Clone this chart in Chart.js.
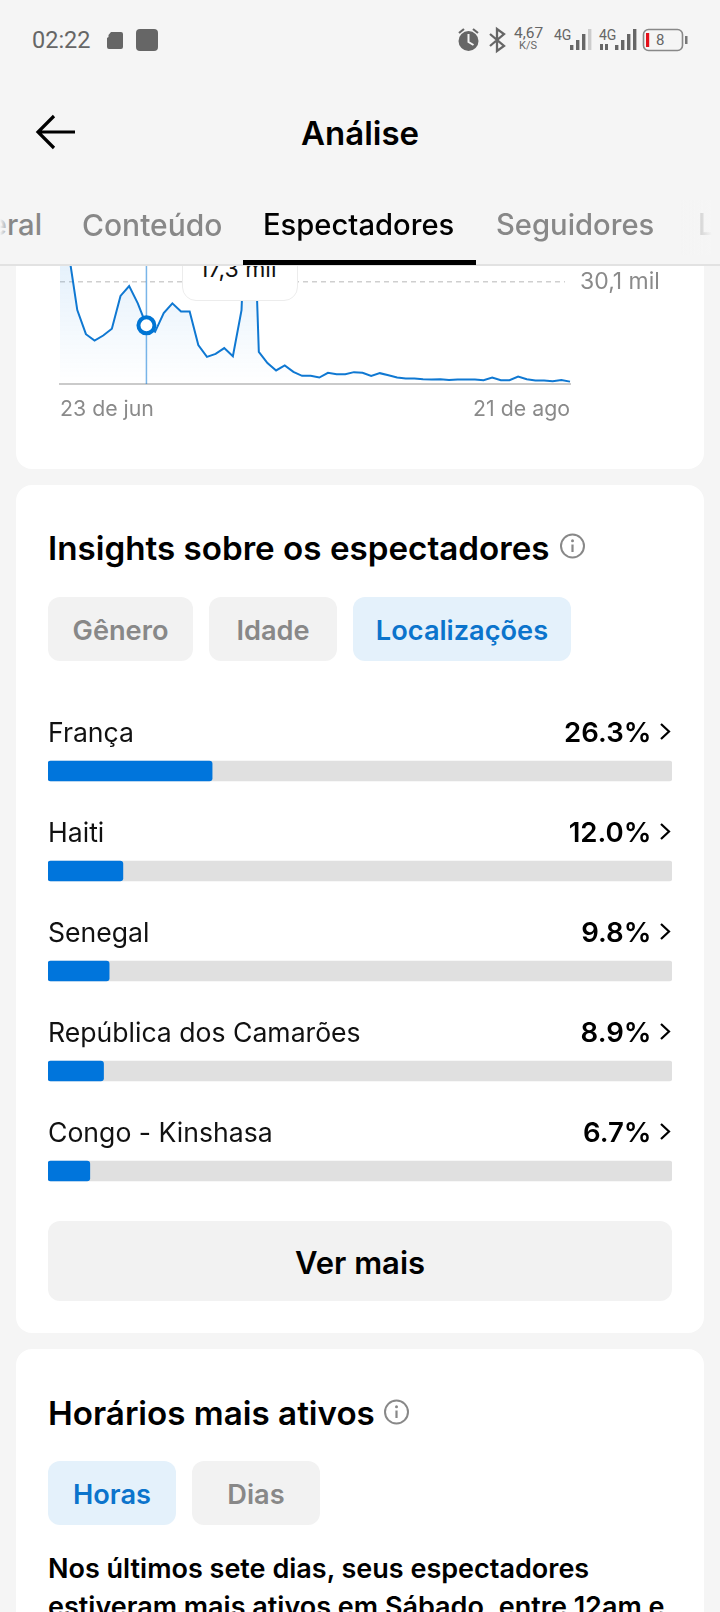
<!DOCTYPE html>
<html lang="pt">
<head>
<meta charset="utf-8">
<title>Análise</title>
<script src="https://cdn.jsdelivr.net/npm/chart.js@4"></script>
<style>
html,body{margin:0;padding:0;width:720px;height:1612px;overflow:hidden;background:#f5f5f5;font-family:Inter,"Noto Sans",sans-serif;}
.a{position:absolute;white-space:nowrap;}
.t{position:absolute;white-space:nowrap;line-height:40px;height:40px;}
.card{position:absolute;left:16px;width:688px;background:#fff;border-radius:16px;}
.pill{position:absolute;height:64px;line-height:67px;text-align:center;border-radius:12px;background:#f2f2f2;color:#888;font-size:27.2px;font-weight:600;}
.pill.on{background:#e4f1fb;color:#0b74cc;}
canvas{position:absolute;}
</style>
</head>
<body>
<div class="card" style="top:200px;height:269px"></div>
<div class="card" style="top:485px;height:848px"></div>
<div class="card" style="top:1349px;height:300px"></div>

<canvas id="lineChart" style="left:0;top:79px;width:720px;height:351px" width="720" height="351"></canvas>
<div class="a" style="left:565px;top:279px;width:8px;height:6px;background:#fff"></div>

<div class="a" style="left:182px;top:200px;width:114px;height:99px;background:#fff;border:1px solid #ececec;border-radius:14px;"></div>
<div class="t" style="left:199px;top:249px;font-size:23px;color:#111">17,3 mil</div>

<div class="a" style="left:0;top:0;width:720px;height:264px;background:#f5f5f5;border-bottom:2px solid #e2e2e2;"></div>

<div class="t" style="left:32px;top:20px;font-family:Roboto;font-size:23.5px;color:#666">02:22</div>
<svg class="a" style="left:0;top:0" width="720" height="70">
  <path d="M111 32h10a2 2 0 0 1 2 2v13a2 2 0 0 1-2 2h-12a2 2 0 0 1-2-2v-9l1.500-1v-2z" fill="#666"/>
  <rect x="136" y="29" width="22" height="22" rx="4" fill="#666"/>
  <circle cx="468.500" cy="41" r="10" fill="#666"/>
  <path d="M468.500 34v8l5 3" stroke="#f5f5f5" stroke-width="2" fill="none"/>
  <path d="M459 33l5-4M478 33l-5-4" stroke="#666" stroke-width="2.200" fill="none"/>
  <path d="M490 34l14 12-7 5V29l7 5-14 12" stroke="#666" stroke-width="2.300" fill="none"/>
  <g fill="#666">
    <rect x="570" y="45" width="3.400" height="5"/><rect x="576" y="40" width="3.400" height="10"/><rect x="582" y="34" width="3.400" height="16"/>
    <rect x="615" y="45" width="3.400" height="5"/><rect x="621" y="40" width="3.400" height="10"/><rect x="627" y="34" width="3.400" height="16"/><rect x="633" y="29" width="3.400" height="21"/>
    <rect x="600" y="44" width="3" height="6"/><rect x="605" y="44" width="3" height="6"/>
  </g>
  <rect x="588" y="29" width="3.400" height="21" fill="#ccc"/>
  <rect x="643.500" y="29.500" width="39" height="21" rx="5" fill="none" stroke="#888" stroke-width="1.600"/>
  <rect x="646" y="33" width="3.200" height="14" fill="#e3101a"/>
  <rect x="685" y="36" width="2.500" height="8" fill="#777"/>
</svg>
<div class="a" style="left:514px;top:24px;font:15.500px/18px Roboto;color:#666">4,67</div>
<div class="a" style="left:519px;top:39px;font:11px/13px Roboto;color:#666">K/S</div>
<div class="a" style="left:554px;top:26px;font:14px/18px Roboto;color:#666">4G</div>
<div class="a" style="left:599px;top:26px;font:14px/18px Roboto;color:#666">4G</div>
<div class="a" style="left:656px;top:30px;font:15px/20px Roboto;color:#666">8</div>

<svg class="a" style="left:34px;top:112px" width="46" height="40">
  <path d="M3 20h38M20 4L4 20l16 16" stroke="#000" stroke-width="3.200" fill="none"/>
</svg>
<div class="t" style="left:301px;top:113px;font-size:33px;font-weight:600;color:#000">Análise</div>

<div class="t" style="right:678px;top:205px;font-size:29.200px;font-weight:500;color:#888">Geral</div>
<div class="t" style="left:82px;top:205px;font-size:30px;font-weight:500;color:#888">Conteúdo</div>
<div class="t" style="left:263px;top:205px;font-size:29.200px;font-weight:500;color:#000">Espectadores</div>
<div class="t" style="left:496px;top:205px;font-size:29.200px;font-weight:500;color:#888">Seguidores</div>
<div class="t" style="left:698px;top:205px;font-size:29.200px;font-weight:500;color:#888">Live</div>
<div class="a" style="left:0;top:200px;width:10px;height:55px;background:linear-gradient(90deg,#f5f5f5,rgba(245,245,245,0))"></div>
<div class="a" style="left:680px;top:200px;width:40px;height:55px;background:linear-gradient(270deg,#f5f5f5 20%,rgba(245,245,245,.2))"></div>
<div class="a" style="left:243px;top:260px;width:233px;height:4.500px;background:#000"></div>

<div class="t" style="left:48px;top:528px;font-size:33.200px;font-weight:600;color:#000">Insights sobre os espectadores</div>
<svg class="a" style="left:559px;top:532px" width="28" height="28"><circle cx="13.500" cy="14" r="11.500" fill="none" stroke="#888" stroke-width="2"/><path d="M13.500 12.500v7.500" stroke="#888" stroke-width="2.200"/><circle cx="13.500" cy="8.800" r="1.500" fill="#888"/></svg>
<div class="pill" style="left:48px;top:597px;width:145px">Gênero</div>
<div class="pill" style="left:209px;top:597px;width:128px">Idade</div>
<div class="pill on" style="left:353px;top:597px;width:218px">Localizações</div>

<canvas id="barChart" style="left:0;top:721px;width:720px;height:500px" width="720" height="500"></canvas>

<div class="a" style="left:48px;top:1221px;width:624px;height:80px;line-height:84px;text-align:center;background:#f2f2f2;border-radius:12px;font-size:31px;font-weight:600;color:#000">Ver mais</div>

<div class="t" style="left:48px;top:1393px;font-size:33.200px;font-weight:600;color:#000">Horários mais ativos</div>
<svg class="a" style="left:383px;top:1398px" width="28" height="28"><circle cx="13.500" cy="14" r="11.500" fill="none" stroke="#888" stroke-width="2"/><path d="M13.500 12.500v7.500" stroke="#888" stroke-width="2.200"/><circle cx="13.500" cy="8.800" r="1.500" fill="#888"/></svg>
<div class="pill on" style="left:48px;top:1461px;width:128px">Horas</div>
<div class="pill" style="left:192px;top:1461px;width:128px">Dias</div>
<div class="t" style="left:48px;top:1549px;font-size:27px;font-weight:600;color:#000">Nos últimos sete dias, seus espectadores</div>
<div class="t" style="left:48px;top:1587px;font-size:27px;font-weight:600;color:#000">estiveram mais ativos em Sábado, entre 12am e</div>

<script>
const dates = [
  "23 de jun","24 de jun","25 de jun","26 de jun","27 de jun","28 de jun","29 de jun","30 de jun",
  "1 de jul","2 de jul","3 de jul","4 de jul","5 de jul","6 de jul","7 de jul","8 de jul","9 de jul","10 de jul",
  "11 de jul","12 de jul","13 de jul","14 de jul","15 de jul","16 de jul","17 de jul","18 de jul","19 de jul","20 de jul",
  "21 de jul","22 de jul","23 de jul","24 de jul","25 de jul","26 de jul","27 de jul","28 de jul","29 de jul","30 de jul","31 de jul",
  "1 de ago","2 de ago","3 de ago","4 de ago","5 de ago","6 de ago","7 de ago","8 de ago","9 de ago","10 de ago",
  "11 de ago","12 de ago","13 de ago","14 de ago","15 de ago","16 de ago","17 de ago","18 de ago","19 de ago","20 de ago","21 de ago"
];
const viewers = [
  50,38.8,21.8,14.7,12.8,14.3,16.3,26.0,28.9,23.8,
  17.3,15.4,20.9,23.8,21.4,21.4,11.5,8.0,8.9,10.6,
  8.2,21.8,86,9.5,6.2,4.0,5.5,3.6,2.4,2.4,
  1.9,3.3,2.9,2.9,3.5,3.3,2.4,3.2,2.6,1.9,
  1.6,1.6,1.4,1.3,1.4,1.2,1.3,1.3,1.3,1.1,
  1.9,1.1,1.1,2.2,1.4,1.0,1.0,0.8,1.2,0.7
];
const selectedIndex = 10;
const referenceTick = 30.1;
const referenceLabel = "30,1 mil";
const countries = ["França","Haiti","Senegal","República dos Camarões","Congo - Kinshasa"];
const shares = [26.3,12.0,9.8,8.9,6.7];
const fullScale = [100,100,100,100,100];

const crosshair = {
  id:'crosshair',
  beforeDatasetsDraw(chart){
    const pt = chart.getDatasetMeta(0).data[selectedIndex];
    const {ctx,chartArea} = chart;
    ctx.save();
    ctx.strokeStyle = 'rgba(11,120,214,.55)';
    ctx.lineWidth = 1.5;
    ctx.beginPath();
    ctx.moveTo(pt.x,chartArea.top);
    ctx.lineTo(pt.x,chartArea.bottom);
    ctx.stroke();
    ctx.restore();
  }
};

new Chart(document.getElementById('lineChart'),{
  type:'line',
  data:{labels:dates,datasets:[{
    data:viewers,
    borderColor:'#0f78d2',
    borderWidth:2,
    tension:0,
    fill:'origin',
    backgroundColor(c){
      const a = c.chart.chartArea;
      if(!a) return 'transparent';
      const g = c.chart.ctx.createLinearGradient(0,a.top,0,a.bottom);
      g.addColorStop(0,'rgba(0,117,220,.26)');
      g.addColorStop(1,'rgba(0,117,220,0)');
      return g;
    },
    pointRadius:c=>c.dataIndex===selectedIndex?8:0,
    pointBorderWidth:4,
    pointBorderColor:'#0075d4',
    pointBackgroundColor:'#fff',
    clip:false
  }]},
  options:{
    responsive:false,animation:false,devicePixelRatio:1,
    layout:{padding:{left:60,right:0,top:0,bottom:0}},
    plugins:{legend:{display:false},tooltip:{enabled:false}},
    events:[],
    scales:{
      x:{
        type:'category',offset:false,
        grid:{display:false},
        border:{display:true,color:'#cacaca',width:2},
        afterFit(s){s.height=46;s.paddingLeft=0;s.paddingRight=0;},
        ticks:{autoSkip:false,maxRotation:0,minRotation:0,align:'inner',padding:4.5,
          color:'#8a8a8a',font:{family:'Inter',size:21.3},
          callback(v,i){return (i===0||i===dates.length-1)?dates[i]:'';}}
      },
      y:{
        position:'right',min:0,max:90,
        afterBuildTicks(s){s.ticks=[{value:referenceTick}];},
        afterFit(s){s.width=150;s.paddingTop=0;s.paddingBottom=0;},
        grid:{color:'#cfcfcf',lineWidth:1.5,drawTicks:false},
        border:{display:false,dash:[5,4]},
        ticks:{padding:10,color:'#8a8a8a',font:{family:'Inter',size:23},
          callback(){return referenceLabel;}}
      }
    }
  },
  plugins:[crosshair]
});

const rowText = {
  id:'rowText',
  afterDatasetsDraw(chart){
    const {ctx,chartArea} = chart;
    const bars = chart.getDatasetMeta(0).data;
    ctx.save();
    bars.forEach((b,i)=>{
      const y = b.y-37.5;
      ctx.textBaseline='middle';
      ctx.fillStyle='#111';
      ctx.textAlign='left';
      ctx.font='400 26.6px Inter';
      ctx.fillText(countries[i],chartArea.left,y);
      ctx.textAlign='right';
      ctx.font='600 27.6px Inter';
      ctx.fillStyle='#000';
      ctx.fillText(shares[i].toFixed(1)+'%',chartArea.right-20.5,y);
      ctx.strokeStyle='#000';
      ctx.lineWidth=2.2;
      ctx.beginPath();
      ctx.moveTo(chartArea.right-11,y-9.5);
      ctx.lineTo(chartArea.right-3,y-2);
      ctx.lineTo(chartArea.right-11,y+5.5);
      ctx.stroke();
    });
    ctx.restore();
  }
};

new Chart(document.getElementById('barChart'),{
  type:'bar',
  data:{labels:countries,datasets:[
    {data:shares,backgroundColor:'#0075dc',barThickness:20,borderRadius:3,borderSkipped:false,grouped:false,order:1},
    {data:fullScale,backgroundColor:'#e0e0e0',barThickness:20,borderRadius:3,borderSkipped:false,grouped:false,order:2}
  ]},
  options:{
    indexAxis:'y',responsive:false,animation:false,devicePixelRatio:1,
    layout:{padding:{left:48,right:48,top:0,bottom:0}},
    plugins:{legend:{display:false},tooltip:{enabled:false}},
    events:[],
    scales:{
      x:{display:false,min:0,max:100},
      y:{display:false,offset:true}
    }
  },
  plugins:[rowText]
});
</script>
</body>
</html>
